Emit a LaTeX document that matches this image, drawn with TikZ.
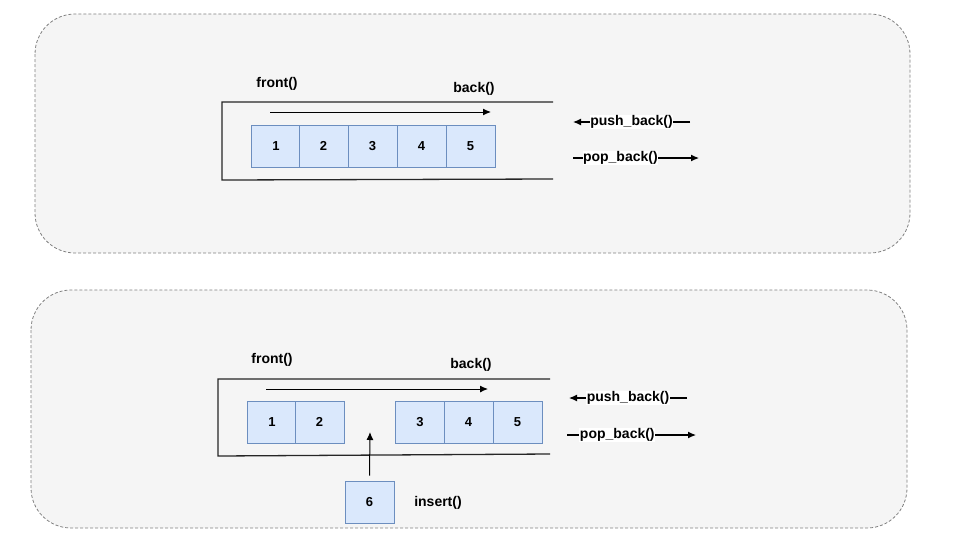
\documentclass[tikz,border=0pt]{standalone}
\usepackage{fontspec}
\setmainfont{Liberation Sans}
\usetikzlibrary{arrows.meta}
\definecolor{panelgray}{HTML}{F5F5F5}
\definecolor{cellfill}{HTML}{DAE8FC}
\definecolor{celldraw}{HTML}{6C8EBF}
\tikzset{
  panel/.style={draw=black!50, line width=0.8pt, dash pattern=on 3pt off 2pt, fill=panelgray, rounded corners=40pt},
  cell/.style={draw=celldraw, fill=cellfill, minimum width=49pt, minimum height=42pt, inner sep=0pt, font=\bfseries\fontsize{13}{15}\selectfont},
  lbl/.style={font=\bfseries\fontsize{14}{16}\selectfont, inner sep=1pt},
  oplbl/.style={lbl, fill=white, inner sep=0.5pt},
}
\begin{document}
\begin{tikzpicture}[>={Latex[length=8pt,width=7pt]}, x=1pt, y=-1pt, line width=1pt]
\useasboundingbox (0,0) rectangle (971,539);
% upper panel
\draw[panel] (35,14) rectangle (910,253);
\draw[line width=1.3pt, black!85] (553,102)--(222,102)--(222,180)--(553,179);
\foreach \n/\x in {1/276,2/323.5,3/372.5,4/421.5,5/470.5}
	\node[cell] (u\n) at (\x,146) {\n};
\node[lbl] (ufront) at (277,84) {front()};
\node[lbl] (uback) at (474,89) {back()};
\coordinate (ua) at (270,112);
\coordinate (ub) at (491,112);
\draw[->] (ua)--(ub);
\coordinate (upushR) at (690,122);
\coordinate (upushL) at (573,122);
\draw[->, line width=1.2pt] (upushR)--(upushL) node[oplbl, midway] (upush) {push\_back()};
\coordinate (upopL) at (573,158);
\coordinate (upopR) at (699,158);
\draw[->, line width=1.2pt] (upopL)--(upopR) node[oplbl, pos=.376] (upop) {pop\_back()};
% lower panel
\draw[panel] (31,290) rectangle (907,528);
\draw[line width=1.3pt, black!85] (550,379)--(218,379)--(218,456)--(550,454);
\foreach \n/\x in {1/272,2/319.5}
	\node[cell] (l\n) at (\x,422) {\n};
\foreach \n/\x in {3/420,4/468.5,5/517.5}
	\node[cell] (l\n) at (\x,422) {\n};
\node[cell] (l6) at (369.5,502) {6};
\node[lbl] (linsert) at (438,503) {insert()};
\coordinate (lgap) at (370,432);
\draw[->] (l6.north)++(0,5pt) coordinate (l6top) (l6top)--(lgap);
\node[lbl] (lfront) at (272,360) {front()};
\node[lbl] (lback) at (471,365) {back()};
\coordinate (la) at (266,389);
\coordinate (lb) at (488,389);
\draw[->] (la)--(lb);
\coordinate (lpushR) at (687,398);
\coordinate (lpushL) at (569,398);
\draw[->, line width=1.2pt] (lpushR)--(lpushL) node[oplbl, midway] (lpush) {push\_back()};
\coordinate (lpopL) at (567,435);
\coordinate (lpopR) at (696,435);
\draw[->, line width=1.2pt] (lpopL)--(lpopR) node[oplbl, pos=.39] (lpop) {pop\_back()};
\end{tikzpicture}
\end{document}
